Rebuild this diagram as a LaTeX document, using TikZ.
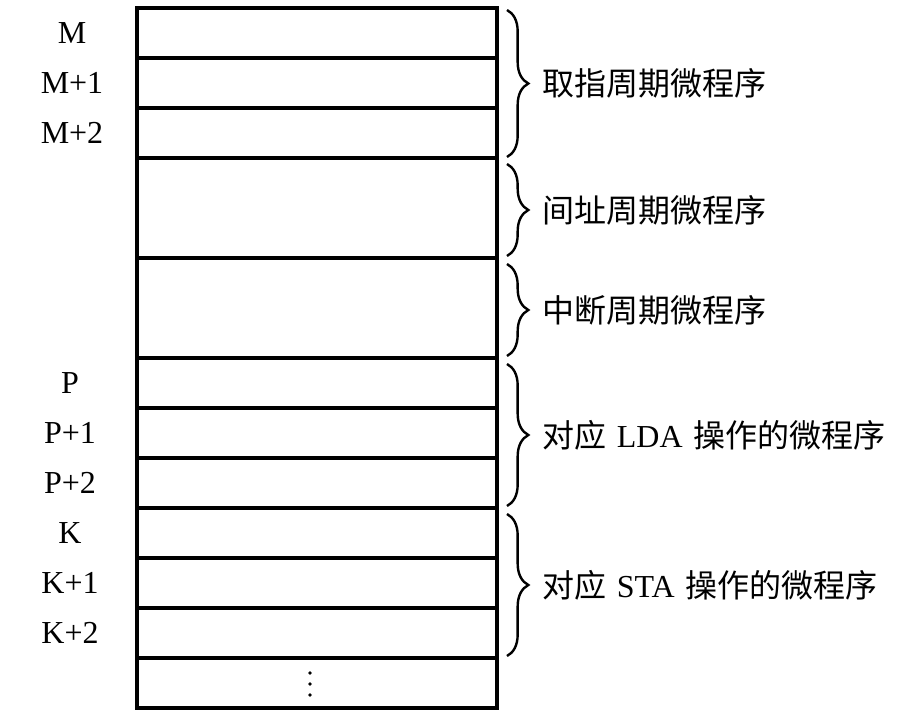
\documentclass[tikz,border=0pt]{standalone}
\usepackage{fontspec}
\setmainfont{Liberation Serif}
\newfontfamily\cjk{Noto Sans CJK SC}
\usetikzlibrary{calc,decorations.pathreplacing,positioning}

\begin{document}
\begin{tikzpicture}[x=0.75pt,y=-0.75pt,
  cell/.style={draw, line width=2.6pt, outer sep=0pt, inner sep=0pt,
    minimum width=270pt, minimum height=37.5pt},
  bigcell/.style={cell, minimum height=75pt},
  addr/.style={font=\fontsize{24}{28}\selectfont},
  brace/.style={decorate, decoration={brace, amplitude=16pt}, line width=1.8pt},
  note/.style={anchor=west, inner sep=0pt, font=\fontsize{24}{28}\selectfont}]
  \useasboundingbox (0,0) rectangle (906,718);
  % control memory cells
  \node[cell](m0) at (317,33){};
  \node[cell, below=0pt of m0](m1){};
  \node[cell, below=0pt of m1](m2){};
  \node[bigcell, below=0pt of m2](ind){};
  \node[bigcell, below=0pt of ind](intr){};
  \node[cell, below=0pt of intr](p0){};
  \node[cell, below=0pt of p0](p1){};
  \node[cell, below=0pt of p1](p2){};
  \node[cell, below=0pt of p2](k0){};
  \node[cell, below=0pt of k0](k1){};
  \node[cell, below=0pt of k1](k2){};
  \node[cell, below=0pt of k2](rest){};
  % vertical ellipsis
  \fill ($(rest)+(-7,-10)$) circle (1.4pt);
  \fill ($(rest)+(-7,1)$) circle (1.4pt);
  \fill ($(rest)+(-7,12)$) circle (1.4pt);
  % addresses
  \node[addr](am0) at ($(m0.west)+(-65,0)$){M};
  \node[addr](am1) at ($(m1.west)+(-65,0)$){M+1};
  \node[addr](am2) at ($(m2.west)+(-65,0)$){M+2};
  \node[addr](ap0) at ($(p0.west)+(-67,0)$){P};
  \node[addr](ap1) at ($(p1.west)+(-67,0)$){P+1};
  \node[addr](ap2) at ($(p2.west)+(-67,0)$){P+2};
  \node[addr](ak0) at ($(k0.west)+(-67,0)$){K};
  \node[addr](ak1) at ($(k1.west)+(-67,0)$){K+1};
  \node[addr](ak2) at ($(k2.west)+(-67,0)$){K+2};
  % braces
  \coordinate(b1a) at ($(m0.north east)+(10,2)$);
  \coordinate(b1b) at ($(m2.south east)+(10,-1)$);
  \coordinate(b2a) at ($(ind.north east)+(10,6)$);
  \coordinate(b2b) at ($(ind.south east)+(10,-2)$);
  \coordinate(b3a) at ($(intr.north east)+(10,6)$);
  \coordinate(b3b) at ($(intr.south east)+(10,-2)$);
  \coordinate(b4a) at ($(p0.north east)+(10,6)$);
  \coordinate(b4b) at ($(p2.south east)+(10,-2)$);
  \coordinate(b5a) at ($(k0.north east)+(10,6)$);
  \coordinate(b5b) at ($(k2.south east)+(10,-2)$);
  \draw[brace](b1a)--(b1b);
  \draw[brace](b2a)--(b2b);
  \draw[brace](b3a)--(b3b);
  \draw[brace](b4a)--(b4b);
  \draw[brace](b5a)--(b5b);
  \node[note](n1) at ($(b1a)!0.5!(b1b)+(35,0)$){\cjk 取指周期微程序};
  \node[note](n2) at ($(b2a)!0.5!(b2b)+(35,0)$){\cjk 间址周期微程序};
  \node[note](n3) at ($(b3a)!0.5!(b3b)+(35,0)$){\cjk 中断周期微程序};
  \node[note](n4) at ($(b4a)!0.5!(b4b)+(35,0)$){{\cjk 对应}\hspace{8pt}LDA\hspace{8pt}{\cjk 操作的微程序}};
  \node[note](n5) at ($(b5a)!0.5!(b5b)+(35,0)$){{\cjk 对应}\hspace{8pt}STA\hspace{8pt}{\cjk 操作的微程序}};
\end{tikzpicture}
\end{document}
